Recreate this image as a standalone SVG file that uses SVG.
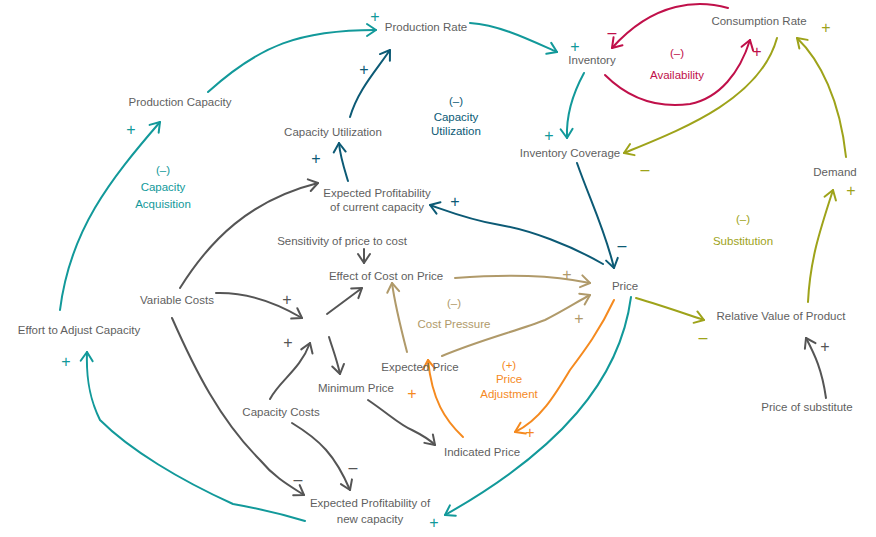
<svg xmlns="http://www.w3.org/2000/svg" width="876" height="537" viewBox="0 0 876 537">
<style>
.n{font-family:"Liberation Sans",Arial,sans-serif;font-size:11.5px;fill:#5f5f5f;text-anchor:middle}
.l{font-family:"Liberation Sans",Arial,sans-serif;font-size:11.5px;text-anchor:middle}
.s{font-family:"Liberation Sans",Arial,sans-serif;font-size:16px;text-anchor:middle}
path.c{fill:none;stroke-width:2;stroke-linecap:round;stroke-linejoin:round}
.teal{stroke:#12999a}.dt{stroke:#0c5a75}.cr{stroke:#c0104a}.ol{stroke:#9ea31a}.tan{stroke:#b09a6a}.or{stroke:#f58a1f}.gr{stroke:#555}
.fteal{fill:#12999a}.fdt{fill:#0c5a75}.fcr{fill:#c0104a}.fol{fill:#9ea31a}.ftan{fill:#b09a6a}.for{fill:#f58a1f}.fgr{fill:#555}
</style>
<defs>
<marker id="mteal" viewBox="-11 -8 13 16" markerWidth="13" markerHeight="16" markerUnits="userSpaceOnUse" orient="auto" refX="0" refY="0"><path d="M-9,-6 L0,0 L-9,6" fill="none" stroke="#12999a" stroke-width="2" stroke-linecap="round" stroke-linejoin="round"/></marker>
<marker id="mdt" viewBox="-11 -8 13 16" markerWidth="13" markerHeight="16" markerUnits="userSpaceOnUse" orient="auto" refX="0" refY="0"><path d="M-9,-6 L0,0 L-9,6" fill="none" stroke="#0c5a75" stroke-width="2" stroke-linecap="round" stroke-linejoin="round"/></marker>
<marker id="mcr" viewBox="-11 -8 13 16" markerWidth="13" markerHeight="16" markerUnits="userSpaceOnUse" orient="auto" refX="0" refY="0"><path d="M-9,-6 L0,0 L-9,6" fill="none" stroke="#c0104a" stroke-width="2" stroke-linecap="round" stroke-linejoin="round"/></marker>
<marker id="mol" viewBox="-11 -8 13 16" markerWidth="13" markerHeight="16" markerUnits="userSpaceOnUse" orient="auto" refX="0" refY="0"><path d="M-9,-6 L0,0 L-9,6" fill="none" stroke="#9ea31a" stroke-width="2" stroke-linecap="round" stroke-linejoin="round"/></marker>
<marker id="mtan" viewBox="-11 -8 13 16" markerWidth="13" markerHeight="16" markerUnits="userSpaceOnUse" orient="auto" refX="0" refY="0"><path d="M-9,-6 L0,0 L-9,6" fill="none" stroke="#b09a6a" stroke-width="2" stroke-linecap="round" stroke-linejoin="round"/></marker>
<marker id="mor" viewBox="-11 -8 13 16" markerWidth="13" markerHeight="16" markerUnits="userSpaceOnUse" orient="auto" refX="0" refY="0"><path d="M-9,-6 L0,0 L-9,6" fill="none" stroke="#f58a1f" stroke-width="2" stroke-linecap="round" stroke-linejoin="round"/></marker>
<marker id="mgr" viewBox="-11 -8 13 16" markerWidth="13" markerHeight="16" markerUnits="userSpaceOnUse" orient="auto" refX="0" refY="0"><path d="M-9,-6 L0,0 L-9,6" fill="none" stroke="#555" stroke-width="2" stroke-linecap="round" stroke-linejoin="round"/></marker>
</defs>
<rect width="876" height="537" fill="#fff"/>
<g id="connectors">
<path class="c teal" marker-end="url(#mteal)" d="M208,92 C260,45 300,30 376,30"/>
<path class="c dt" marker-end="url(#mdt)" d="M350,117 C358,90 375,72 390,50"/>
<path class="c teal" marker-end="url(#mteal)" d="M470,23 C500,25 530,40 557,52"/>
<path class="c cr" marker-end="url(#mcr)" d="M728,8 C700,0 655,0 612,48"/>
<path class="c cr" marker-end="url(#mcr)" d="M605,75 C630,100 660,108 690,104 C720,98 740,72 750,40"/>
<path class="c teal" marker-end="url(#mteal)" d="M584,73 C572,95 566,115 567,138"/>
<path class="c ol" marker-end="url(#mol)" d="M777,38 C760,100 680,130 624,153"/>
<path class="c ol" marker-end="url(#mol)" d="M846,157 C840,100 820,60 797,38"/>
<path class="c dt" marker-end="url(#mdt)" d="M577,163 C590,200 605,230 614,268"/>
<path class="c dt" marker-end="url(#mdt)" d="M603,264 C570,245 530,230 500,225 C470,220 450,212 430,205"/>
<path class="c dt" marker-end="url(#mdt)" d="M348,181 C344,168 340,156 339,143"/>
<path class="c gr" marker-end="url(#mgr)" d="M180,288 C210,240 250,200 318,183"/>
<path class="c gr" marker-end="url(#mgr)" d="M364,249 L364,263"/>
<path class="c tan" marker-end="url(#mtan)" d="M455,278 C510,274 550,275 590,283"/>
<path class="c tan" marker-end="url(#mtan)" d="M442,356 C480,340 520,330 545,320 C565,310 580,300 590,295"/>
<path class="c tan" marker-end="url(#mtan)" d="M407,352 C400,325 395,305 392,283"/>
<path class="c gr" marker-end="url(#mgr)" d="M216,293 C250,292 280,305 302,318"/>
<path class="c gr" marker-end="url(#mgr)" d="M327,314 L362,288"/>
<path class="c gr" marker-end="url(#mgr)" d="M270,399 C280,380 300,370 310,343"/>
<path class="c gr" marker-end="url(#mgr)" d="M329,337 C333,350 337,360 340,374"/>
<path class="c gr" marker-end="url(#mgr)" d="M368,400 C390,415 400,425 412,430 C422,435 430,440 435,445"/>
<path class="c or" marker-end="url(#mor)" d="M463,437 C445,420 432,400 428,360"/>
<path class="c or" marker-end="url(#mor)" d="M614,300 C600,330 585,350 570,370 C555,395 540,420 515,432"/>
<path class="c teal" marker-end="url(#mteal)" d="M631,297 C620,380 560,450 445,515"/>
<path class="c ol" marker-end="url(#mol)" d="M636,298 C660,305 680,312 704,320"/>
<path class="c gr" marker-end="url(#mgr)" d="M826,398 C822,370 815,355 806,338"/>
<path class="c ol" marker-end="url(#mol)" d="M808,302 C810,260 820,230 833,190"/>
<path class="c gr" marker-end="url(#mgr)" d="M292,423 C320,440 335,455 350,490"/>
<path class="c gr" marker-end="url(#mgr)" d="M172,318 C195,370 220,420 260,460 C275,478 290,486 304,495"/>
<path class="c teal" marker-end="url(#mteal)" d="M305,521 C275,512 250,507 233,504 C180,480 130,450 100,420 C90,400 86,380 87,352"/>
<path class="c teal" marker-end="url(#mteal)" d="M60,310 C70,230 110,180 160,122"/>
</g>
<g id="polarities">
<text class="s fteal" x="375" y="22">+</text>
<text class="s fdt" x="364" y="75">+</text>
<text class="s fteal" x="575" y="52">+</text>
<text class="s fcr" x="612" y="38">–</text>
<text class="s fcr" x="757" y="57">+</text>
<text class="s fol" x="826" y="33">+</text>
<text class="s fteal" x="131" y="135">+</text>
<text class="s fdt" x="316" y="164">+</text>
<text class="s fteal" x="549" y="141">+</text>
<text class="s fol" x="645" y="175">–</text>
<text class="s fol" x="851" y="196">+</text>
<text class="s fdt" x="455" y="207">+</text>
<text class="s fdt" x="622" y="251">–</text>
<text class="s ftan" x="567" y="280">+</text>
<text class="s ftan" x="579" y="324">+</text>
<text class="s fgr" x="287" y="305">+</text>
<text class="s fgr" x="288" y="348">+</text>
<text class="s fol" x="703" y="343">–</text>
<text class="s fgr" x="825" y="352">+</text>
<text class="s for" x="412" y="399">+</text>
<text class="s for" x="530" y="438">+</text>
<text class="s fteal" x="66" y="367">+</text>
<text class="s fgr" x="298" y="485">–</text>
<text class="s fgr" x="353" y="473">–</text>
<text class="s fteal" x="434" y="528">+</text>
</g>
<g id="loops">
<text class="l fteal" x="163" y="174">(–)</text>
<text class="l fteal" x="163" y="191">Capacity</text>
<text class="l fteal" x="163" y="208">Acquisition</text>
<text class="l fdt" x="456" y="105">(–)</text>
<text class="l fdt" x="456" y="121">Capacity</text>
<text class="l fdt" x="456" y="135">Utilization</text>
<text class="l fcr" x="677" y="57">(–)</text>
<text class="l fcr" x="677" y="79">Availability</text>
<text class="l fol" x="743" y="223">(–)</text>
<text class="l fol" x="743" y="245">Substitution</text>
<text class="l ftan" x="454" y="307">(–)</text>
<text class="l ftan" x="454" y="328">Cost Pressure</text>
<text class="l for" x="509" y="369">(+)</text>
<text class="l for" x="509" y="383">Price</text>
<text class="l for" x="509" y="398">Adjustment</text>
</g>
<g id="production-rate"><text class="n" x="426" y="31">Production Rate</text></g>
<g id="inventory"><text class="n" x="592" y="64">Inventory</text></g>
<g id="consumption-rate"><text class="n" x="759" y="25">Consumption Rate</text></g>
<g id="production-capacity"><text class="n" x="180" y="106">Production Capacity</text></g>
<g id="capacity-utilization"><text class="n" x="333" y="136">Capacity Utilization</text></g>
<g id="inventory-coverage"><text class="n" x="570" y="157">Inventory Coverage</text></g>
<g id="demand"><text class="n" x="835" y="176">Demand</text></g>
<g id="exp-prof-current"><text class="n" x="377" y="197">Expected Profitability</text><text class="n" x="377" y="211">of current capacity</text></g>
<g id="sensitivity"><text class="n" x="342" y="245">Sensitivity of price to cost</text></g>
<g id="effect-cost-price"><text class="n" x="386" y="280">Effect of Cost on Price</text></g>
<g id="price"><text class="n" x="625" y="290">Price</text></g>
<g id="variable-costs"><text class="n" x="177" y="304">Variable Costs</text></g>
<g id="relative-value"><text class="n" x="781" y="320">Relative Value of Product</text></g>
<g id="effort-adjust"><text class="n" x="79" y="334">Effort to Adjust Capacity</text></g>
<g id="expected-price"><text class="n" x="420" y="371">Expected Price</text></g>
<g id="minimum-price"><text class="n" x="356" y="392">Minimum Price</text></g>
<g id="capacity-costs"><text class="n" x="281" y="416">Capacity Costs</text></g>
<g id="price-substitute"><text class="n" x="807" y="411">Price of substitute</text></g>
<g id="indicated-price"><text class="n" x="482" y="456">Indicated Price</text></g>
<g id="exp-prof-new"><text class="n" x="370" y="507">Expected Profitability of</text><text class="n" x="370" y="523">new capacity</text></g>
</svg>
